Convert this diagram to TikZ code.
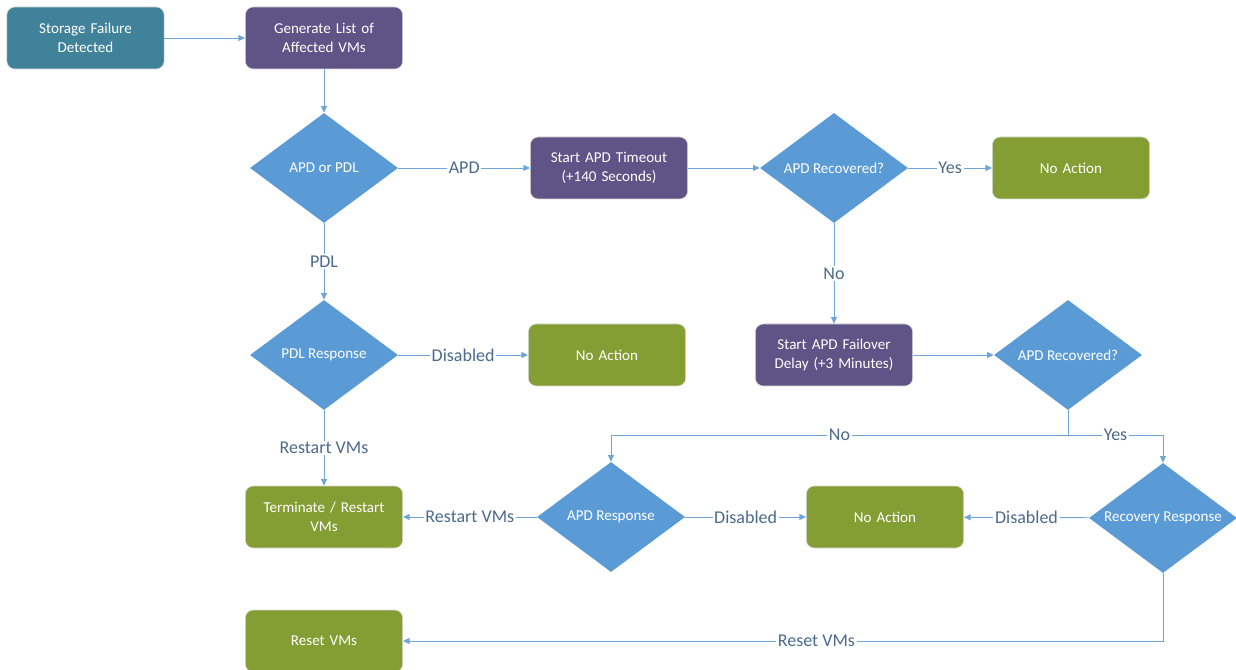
\documentclass[tikz,border=0pt]{standalone}
\usepackage{fontspec}
\setmainfont{Carlito}
\usetikzlibrary{shapes.geometric,arrows.meta}
\definecolor{cteal}{HTML}{41829B}
\definecolor{cpurple}{HTML}{5F5486}
\definecolor{cgreen}{HTML}{849E34}
\definecolor{cblue}{HTML}{5B9BD5}
\definecolor{cline}{HTML}{6FA6DA}
\definecolor{clabel}{HTML}{4B6A8E}
\tikzset{
  box/.style={rectangle, rounded corners=6pt, minimum width=118pt, minimum height=46.5pt,
    text width=110pt, align=center, text=white, font=\fontsize{11.3}{14}\selectfont,
    draw=white!85!black, line width=0.4pt},
  tealbox/.style={box, fill=cteal},
  purplebox/.style={box, fill=cpurple},
  greenbox/.style={box, fill=cgreen},
  decision/.style={diamond, fill=cblue, minimum width=111pt, minimum height=82.5pt,
    inner sep=0pt, text=white, font=\fontsize{11.3}{14}\selectfont},
  arr/.style={draw=cline, line width=0.7pt, -{Triangle[length=5pt,width=4.5pt]}},
  plain/.style={draw=cline, line width=0.7pt},
  lbl/.style={fill=white, inner sep=1.2pt, text=clabel, font=\fontsize{13.5}{15}\selectfont}
}
\begin{document}
\begin{tikzpicture}[x=0.75pt,y=-0.75pt]
\useasboundingbox (0,0) rectangle (1236,670);
\begin{scope}
\clip (0,0) rectangle (1236,670);
% nodes
\node[tealbox] (sfd) at (85.5,38) {Storage Failure\\Detected};
\node[purplebox] (gen) at (324,38) {Generate List of\\Affected VMs};
\node[decision] (apdpdl) at (324,168) {\makebox[0pt]{APD or PDL}};
\node[purplebox] (timeout) at (609,168) {Start APD Timeout\\(+140 Seconds)};
\node[decision] (rec1) at (834,168) {\makebox[0pt]{APD Recovered?}};
\node[greenbox] (noact1) at (1071,168) {No Action};
\node[decision] (pdlresp) at (324,355) {\makebox[0pt]{PDL Response}};
\node[greenbox] (noact2) at (607,355) {No Action};
\node[purplebox] (failover) at (834,355) {Start APD Failover\\Delay (+3 Minutes)};
\node[decision] (rec2) at (1068,355) {\makebox[0pt]{APD Recovered?}};
\node[greenbox] (term) at (324,517) {Terminate / Restart\\VMs};
\node[decision] (apdresp) at (611,517) {\makebox[0pt]{APD Response}};
\node[greenbox] (noact3) at (885,517) {No Action};
\node[decision] (recresp) at (1163,518) {\makebox[0pt]{Recovery Response}};
\node[greenbox] (reset) at (324,641) {Reset VMs};
\coordinate (split) at (1068,435);
% connectors
\draw[arr] (sfd) -- (gen);
\draw[arr] (gen) -- (apdpdl);
\draw[arr] (apdpdl) -- node[lbl] {APD} (timeout);
\draw[arr] (timeout) -- (rec1);
\draw[arr] (rec1) -- node[lbl] {Yes} (noact1);
\draw[arr] (rec1) -- node[lbl] {No} (failover);
\draw[arr] (apdpdl) -- node[lbl] {PDL} (pdlresp);
\draw[arr] (pdlresp) -- node[lbl] {Disabled} (noact2);
\draw[arr] (failover) -- (rec2);
\draw[plain] (rec2.south) -- (split);
\draw[arr] (split) -- node[lbl] {No} (split -| apdresp.north) -- (apdresp.north);
\draw[arr] (split) -- node[lbl] {Yes} (split -| recresp.north) -- (recresp.north);
\draw[arr] (pdlresp) -- node[lbl] {Restart VMs} (term);
\draw[arr] (apdresp) -- node[lbl] {Restart VMs} (term);
\draw[arr] (apdresp) -- node[lbl] {Disabled} (noact3);
\draw[arr] (recresp) -- node[lbl] {Disabled} (noact3);
\draw[arr] (recresp.south) |- node[lbl, pos=0.728] {Reset VMs} (reset.east);
\end{scope}
\end{tikzpicture}
\end{document}
